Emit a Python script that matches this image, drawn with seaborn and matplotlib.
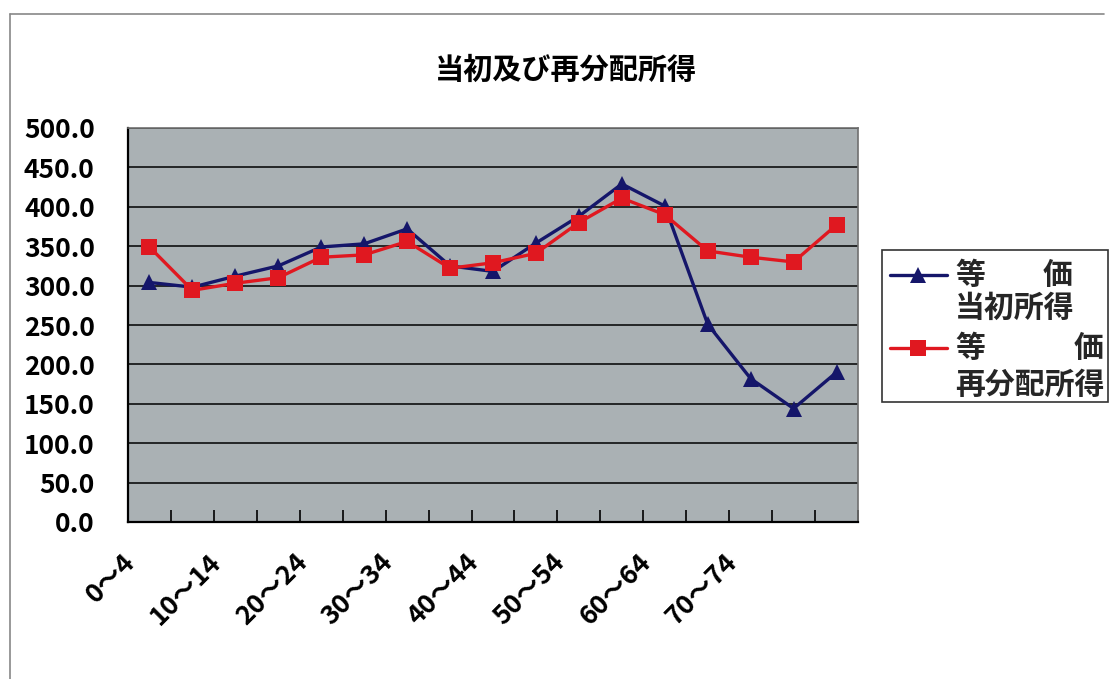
import numpy as np
import pandas as pd
import matplotlib
matplotlib.use('Agg')
import matplotlib.pyplot as plt
from matplotlib.lines import Line2D
from matplotlib.patches import Rectangle
from matplotlib.ticker import FormatStrFormatter
from matplotlib.transforms import ScaledTranslation
import seaborn as sns

# ==================== DATA ====================
age_groups = ['0〜4', '5〜9', '10〜14', '15〜19', '20〜24', '25〜29', '30〜34', '35〜39',
              '40〜44', '45〜49', '50〜54', '55〜59', '60〜64', '65〜69', '70〜74', '75〜79', '80〜']
initial_income = [304, 298, 312, 325, 349, 353, 372, 325, 318, 354, 388, 429, 401, 251, 182, 144, 190]
redistributed_income = [349, 294, 303, 310, 336, 339, 356, 322, 329, 341, 380, 411, 390, 344, 336, 330, 377]
series_names = ['当初所得', '再分配所得']
legend_prefix = ('等', '価')
series_colors = ['#15166a', '#e01820']
shown_labels = age_groups[0:15:2]

# ==================== PLOT ====================
sns.set_theme(style='white')
plt.rcParams['font.family'] = ['Noto Sans CJK JP', 'DejaVu Sans']
plt.rcParams['font.weight'] = 'bold'

W, H = 1111, 679
def fx(px): return px / W
def fy(py): return 1 - py / H

pos = np.arange(len(age_groups))
df = pd.DataFrame({
    'pos': np.concatenate([pos, pos]),
    'value': initial_income + redistributed_income,
    'series': [series_names[0]] * len(pos) + [series_names[1]] * len(pos),
})

fig = plt.figure(figsize=(W / 100, H / 100), dpi=100)
ax = fig.add_axes([fx(128), fy(522), 730 / W, 394 / H])
ax.set_facecolor('#aab1b4')

sns.lineplot(data=df, x='pos', y='value', hue='series', style='series',
             palette=series_colors, markers=['^', 's'], dashes=False,
             linewidth=2.4, markersize=11, markeredgewidth=0, ax=ax, legend=False)

ax.set_xlim(-0.5, len(age_groups) - 0.5)
ax.set_ylim(0, 500)
ax.set_yticks(np.arange(0, 501, 50))
ax.yaxis.set_major_formatter(FormatStrFormatter('%.1f'))
ax.grid(axis='y', color='black', linewidth=1.1)
ax.set_axisbelow(True)
ax.set_xlabel('')
ax.set_ylabel('')

# category labels every other group, tick marks between categories
ax.set_xticks(pos[0:15:2])
ax.set_xticklabels(shown_labels, rotation=45, ha='right', va='center', rotation_mode='anchor',
                   fontsize=19, fontweight='bold', color='black')
ax.set_xticks(np.arange(-0.5, len(age_groups), 1), minor=True)
ax.tick_params(axis='x', which='major', length=0, pad=26)
ax.tick_params(axis='x', which='minor', direction='in', length=9, width=1.2, color='black', bottom=True)
ax.tick_params(axis='y', length=0, pad=24, labelsize=19, labelcolor='black')
for lab in ax.get_yticklabels():
    lab.set_fontweight('bold')
# shift labels left after tick_params (tick_params resets label transforms)
shift = ScaledTranslation(-0.18, 0, fig.dpi_scale_trans)
for lab in ax.xaxis.get_majorticklabels():
    lab.set_transform(lab.get_transform() + shift)

for side in ['left', 'bottom']:
    ax.spines[side].set_color('black')
    ax.spines[side].set_linewidth(1.6)
for side in ['top', 'right']:
    ax.spines[side].set_color('#707070')
    ax.spines[side].set_linewidth(1.2)

# title
fig.text(fx(566), fy(70), '当初及び再分配所得', ha='center', va='center',
         fontsize=21, fontweight='bold', color='black')

# legend drawn by hand (Excel style: marker on first text line, justified 等 … 価)
fig.add_artist(Rectangle((fx(882), fy(402)), fx(1108) - fx(882), fy(250) - fy(402),
                         transform=fig.transFigure, facecolor='white', edgecolor='#333333', linewidth=1.2))
rows = [(275, 308, 1073), (348, 385, 1104)]
markers = ['^', 's']
for (y1, y2, xr), name, col, mk in zip(rows, series_names, series_colors, markers):
    fig.add_artist(Line2D([fx(890), fx(947)], [fy(y1), fy(y1)], color=col, linewidth=2.4))
    fig.add_artist(Line2D([fx(918)], [fy(y1)], color=col, marker=mk, markersize=11, markeredgewidth=0))
    fig.text(fx(955), fy(y1), legend_prefix[0], ha='left', va='center', fontsize=21.5, fontweight='bold')
    fig.text(fx(xr), fy(y1), legend_prefix[1], ha='right', va='center', fontsize=21.5, fontweight='bold')
    fig.text(fx(955), fy(y2), name, ha='left', va='center', fontsize=21.5, fontweight='bold')

# outer chart frame
fig.add_artist(Line2D([fx(10), fx(1104)], [fy(14), fy(14)], color='#888888', linewidth=1.2))
fig.add_artist(Line2D([fx(10), fx(10)], [fy(14), 0], color='#888888', linewidth=1.2))

fig.savefig('out.png', dpi=100, facecolor='white')
